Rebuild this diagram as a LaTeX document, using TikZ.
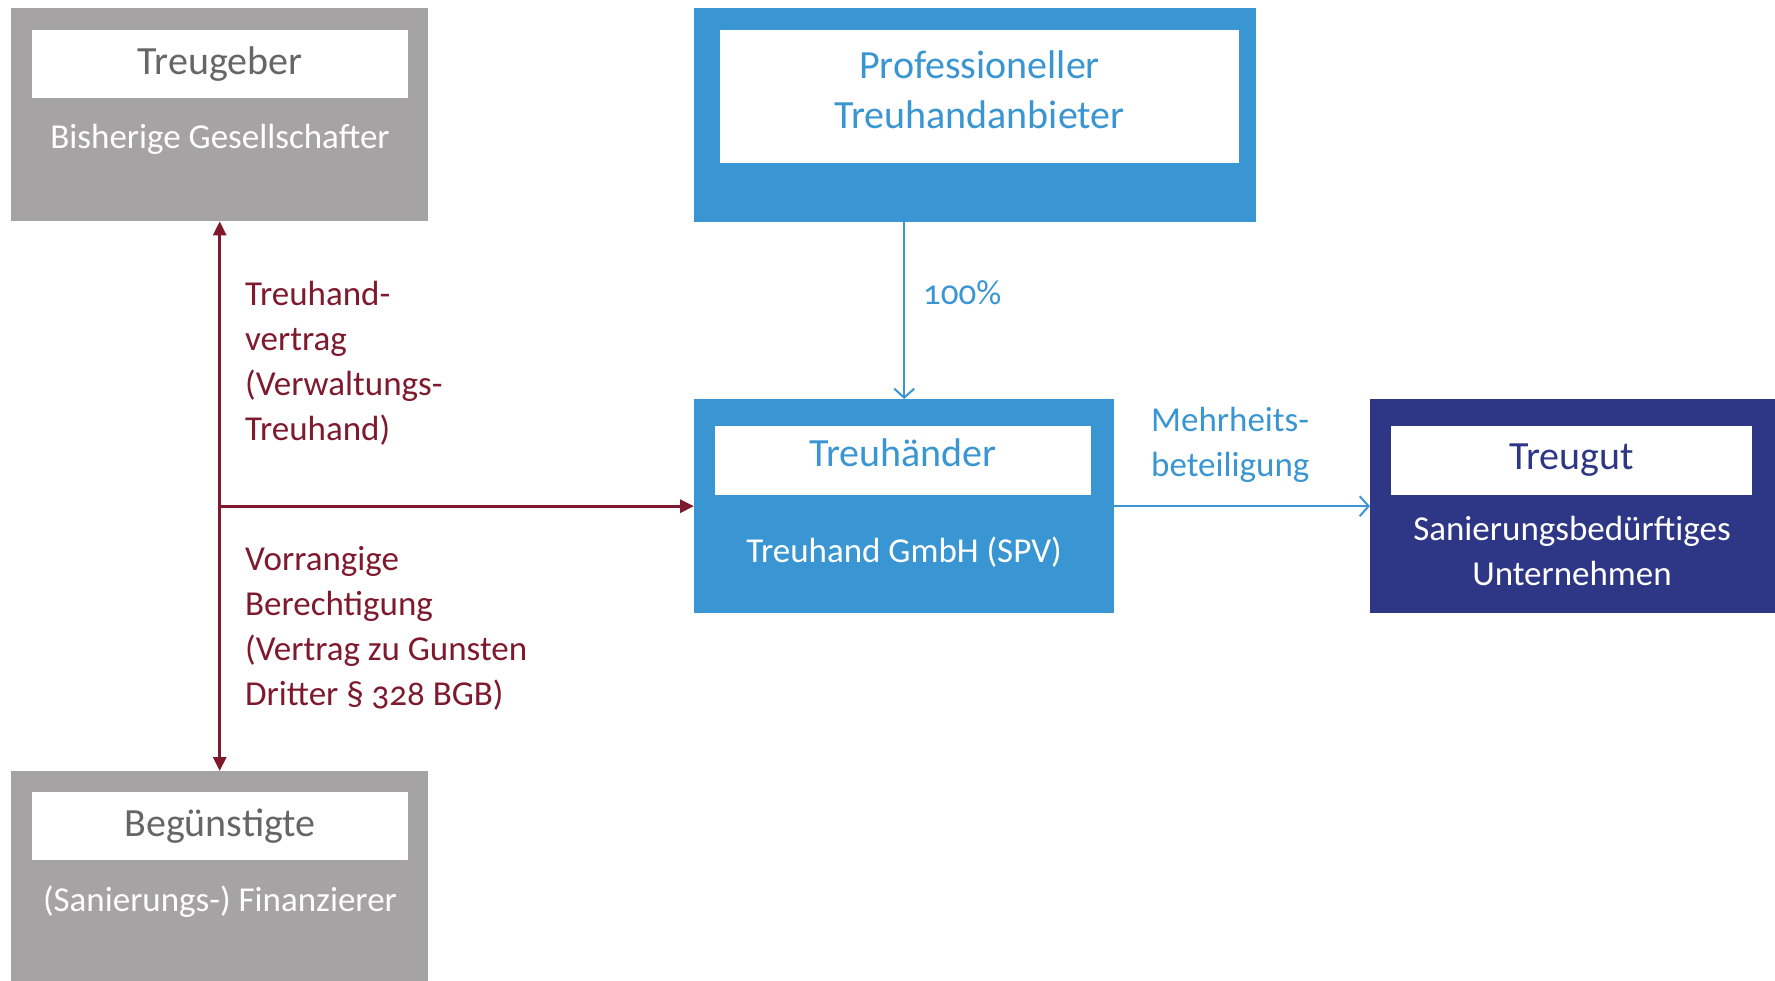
\documentclass[tikz,border=0pt]{standalone}
\usepackage{fontspec}
\setmainfont{Carlito}[Numbers=OldStyle]
\usetikzlibrary{arrows.meta,positioning}
\definecolor{tgray}{HTML}{A5A3A4}
\definecolor{tblue}{HTML}{3A96D2}
\definecolor{tnavy}{HTML}{2E3785}
\definecolor{tred}{HTML}{7F1A2E}
\definecolor{tdark}{HTML}{666666}

\begin{document}
\begin{tikzpicture}[x=1pt, y=-1pt,
  outer/.style={rectangle, inner sep=0pt, anchor=north west},
  title/.style={rectangle, fill=white, inner sep=0pt, align=center, font=\fontsize{40}{50}\selectfont},
  sub/.style={inner sep=0pt, align=center, text=white, font=\fontsize{35}{45}\selectfont},
  lbl/.style={inner sep=0pt, align=left, anchor=north west, font=\fontsize{35}{45}\selectfont},
  redarr/.style={draw=tred, line width=3pt, -{Triangle[length=14pt, width=13pt]}},
  bluearr/.style={draw=tblue, line width=2pt, -{Straight Barb[length=9pt, width=20pt, line width=2pt]}}
]
\useasboundingbox (0,0) rectangle (1775,981);

% left column
\node[outer, fill=tgray, minimum width=417pt, minimum height=213pt] (geber) at (11,8) {};
\node[title, text=tdark, minimum width=376pt, minimum height=68pt] (geberT) at (220,64.5) {Treugeber};
\node[sub] (geberS) at (220,139) {Bisherige Gesellschafter};

\node[outer, fill=tgray, minimum width=417pt, minimum height=214pt] (beg) at (11,771) {};
\node[title, text=tdark, minimum width=376pt, minimum height=68pt] (begT) at (220,826) {Begünstigte};
\node[sub] (begS) at (220,902) {(Sanierungs-) Finanzierer};

% middle column
\node[outer, fill=tblue, minimum width=562pt, minimum height=214pt] (anbieter) at (694,8) {};
\node[title, minimum width=519pt, minimum height=133pt] (anbieterT) at (979.5,96.5) {};
\node[title, fill=none, text=tblue] (anbieterL) at ([yshift=7pt]anbieterT.center) {Professioneller\\Treuhandanbieter};

\node[outer, fill=tblue, minimum width=420pt, minimum height=214pt] (haender) at (694,399) {};
\node[title, text=tblue, minimum width=376pt, minimum height=69pt, text depth=15pt] (haenderT) at (903,460.5) {Treuhänder};
\node[sub] (haenderS) at (904,552) {Treuhand GmbH (SPV)};

% right column
\node[outer, fill=tnavy, minimum width=410pt, minimum height=214pt] (gut) at (1370,399) {};
\node[title, text=tnavy, minimum width=361pt, minimum height=69pt] (gutT) at (1571.5,460.5) {Treugut};
\node[sub] (gutS) at (1572,551) {Sanierungsbedürftiges\\Unternehmen};

% connectors
\draw[redarr, {Triangle[length=14pt, width=13pt]}-{Triangle[length=14pt, width=13pt]}] (geber.south) -- (beg.north);
\draw[redarr] (geber.south |- haender.west) -- (haender.west);
\draw[bluearr] (haender.north |- anbieter.south) -- (haender.north);
\draw[bluearr] (haender.east) -- (gut.west);

% labels
\node[lbl, text=tred] (vertrag) at (245,280.5) {Treuhand-\\vertrag\\(Verwaltungs-\\Treuhand)};
\node[lbl, text=tred] (recht) at (245,546.5) {Vorrangige\\Berechtigung\\(Vertrag zu Gunsten\\Dritter § 328 BGB)};
\node[lbl, text=tblue] (mehr) at (1151,406.5) {Mehrheits-\\beteiligung};
\node[lbl, text=tblue] (proz) at (923,280) {100\%};
\end{tikzpicture}
\end{document}
